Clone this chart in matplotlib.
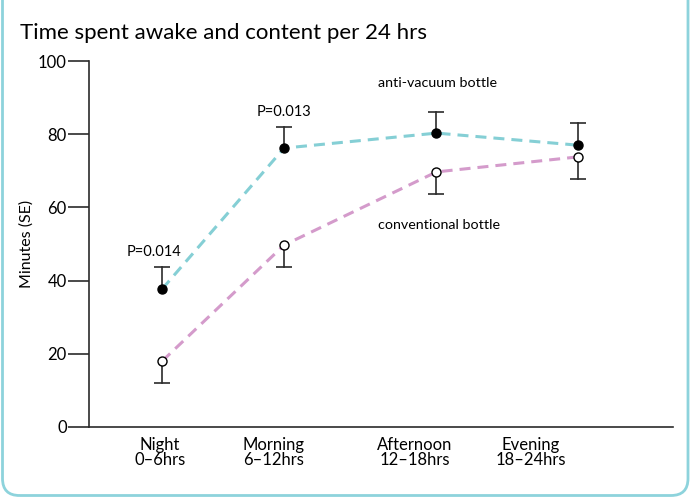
import matplotlib
matplotlib.use("Agg")
import matplotlib.pyplot as plt
from matplotlib.patches import FancyBboxPatch

plt.rcParams['font.family'] = ['Lato', 'DejaVu Sans']

# data
periods = ["Night\n0\u20136hrs", "Morning\n6\u201312hrs", "Afternoon\n12\u201318hrs", "Evening\n18\u201324hrs"]
point_x = [1.0, 2.0, 3.25, 4.41]      # where the points sit
label_x = [0.98, 1.91, 3.07, 4.02]    # where the category labels sit
anti_vacuum = [37.7, 76.2, 80.3, 77.0]
anti_vacuum_se = [6.0, 5.8, 5.8, 6.0]
conventional = [18.0, 49.7, 69.7, 73.8]
conventional_se = [6.0, 6.0, 6.0, 6.0]
p_values = ["P=0.014", "P=0.013"]

teal = "#85cfd5"
pink = "#d49bcb"
bar_col = "#2b2b2b"

fig = plt.figure(figsize=(6.91, 4.98), dpi=100)

# rounded frame around the whole panel (top edge runs off the image)
frame = FancyBboxPatch((0.025, 0.025), 6.855, 5.4,
                       boxstyle="round,pad=0,rounding_size=0.17",
                       transform=fig.dpi_scale_trans, fill=False,
                       edgecolor="#8dd3dc", linewidth=2.0)
fig.patches.append(frame)

ax = fig.add_axes([0.1288, 0.1426, 0.974 - 0.1288, 0.8775 - 0.1426])

# one-sided error bars: anti-vacuum up, conventional down
for x, y, se in zip(point_x, anti_vacuum, anti_vacuum_se):
    ax.plot([x, x], [y, y + se], color=bar_col, lw=1.2, zorder=2)
    ax.plot(x, y + se, marker="_", ms=12, mew=1.2, color=bar_col, zorder=2)
for x, y, se in zip(point_x, conventional, conventional_se):
    ax.plot([x, x], [y, y - se], color=bar_col, lw=1.2, zorder=2)
    ax.plot(x, y - se, marker="_", ms=12, mew=1.2, color=bar_col, zorder=2)

ax.plot(point_x, anti_vacuum, color=teal, lw=2.2, dashes=(3.6, 2.3), zorder=3)
ax.plot(point_x, conventional, color=pink, lw=2.2, dashes=(3.6, 2.3), zorder=3)
ax.plot(point_x, anti_vacuum, "o", ms=6.5, mfc="black", mec="black", mew=1, zorder=4)
ax.plot(point_x, conventional, "o", ms=6.5, mfc="white", mec="black", mew=1, zorder=4)

ax.text(0.93, 47.8, p_values[0], ha="center", va="center", fontsize=10.5)
ax.text(2.0, 86.1, p_values[1], ha="center", va="center", fontsize=10.5)
ax.text(3.26, 94.0, "anti-vacuum bottle", ha="center", va="center", fontsize=10.3)
ax.text(3.27, 55.2, "conventional bottle", ha="center", va="center", fontsize=10.3)

ax.set_xlim(0.40, 5.19)
ax.set_ylim(0, 100)
ax.set_yticks([0, 20, 40, 60, 80, 100])
ax.set_xticks(label_x)
ax.set_xticklabels(periods, fontsize=12, linespacing=0.95)
ax.tick_params(axis="x", length=0, pad=7)
ax.tick_params(axis="y", length=15, width=1.2, color=bar_col, labelsize=12, pad=1)
ax.set_ylabel("Minutes (SE)", fontsize=11.5, labelpad=3)

for side in ["top", "right"]:
    ax.spines[side].set_visible(False)
for side in ["left", "bottom"]:
    ax.spines[side].set_linewidth(1.2)
    ax.spines[side].set_color(bar_col)

fig.text(20 / 691, 1 - 33 / 498, "Time spent awake and content per 24 hrs",
         ha="left", va="center", fontsize=16)

fig.savefig("out.png", dpi=100)
